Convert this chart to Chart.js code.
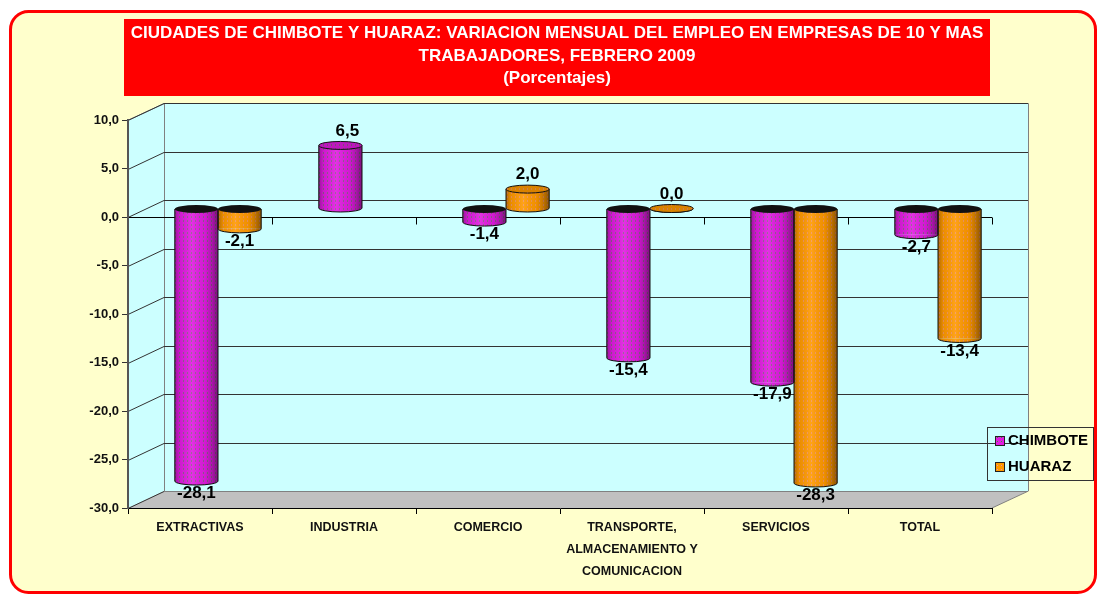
<!DOCTYPE html>
<html><head><meta charset="utf-8">
<script src="https://cdn.jsdelivr.net/npm/chart.js@4.4.1/dist/chart.umd.min.js"></script>
<style>html,body{margin:0;padding:0;background:#fff;overflow:hidden}</style>
</head><body>
<canvas id="c" width="1098" height="595"></canvas>
<script>
const titleLines = ['CIUDADES DE CHIMBOTE Y HUARAZ: VARIACION MENSUAL DEL EMPLEO EN EMPRESAS DE 10 Y MAS','TRABAJADORES, FEBRERO 2009','(Porcentajes)'];
const categories = ['EXTRACTIVAS','INDUSTRIA','COMERCIO',['TRANSPORTE,','ALMACENAMIENTO Y','COMUNICACION'],'SERVICIOS','TOTAL'];
const seriesNames = ['CHIMBOTE','HUARAZ'];
const chimbote = [-28.1, 6.5, -1.4, -15.4, -17.9, -2.7];
const huaraz = [-2.1, null, 2.0, 0.0, -28.3, -13.4];
const yMin = -30, yMax = 10, yStep = 5;

const FONT = '"Liberation Sans", Arial, sans-serif';
const DX = 36, DY = -17;   // depth offset of back wall
const RY = 4;              // cylinder cap radius (vertical)
const canvas = document.getElementById('c');
const ctx0 = canvas.getContext('2d');

function makePattern(base, dot){
  const c = document.createElement('canvas'); c.width = 4; c.height = 4;
  const g = c.getContext('2d');
  g.fillStyle = base; g.fillRect(0,0,4,4);
  g.fillStyle = dot; g.fillRect(1,1,1,1);
  return ctx0.createPattern(c,'repeat');
}
const patterns = [makePattern('#E01CE0','#3E9A3A'), makePattern('#FF9900','#E890B8')];
const fmt = v => v.toFixed(1).replace('.', ',');

const scene = {
  id: 'scene',
  beforeDraw(chart){
    const ctx = chart.ctx, a = chart.chartArea, ys = chart.scales.y;
    ctx.save();
    ctx.fillStyle = '#fff'; ctx.fillRect(0,0,chart.width,chart.height);
    // outer frame
    ctx.beginPath(); ctx.roundRect(10.5, 11.5, 1085, 581, 18);
    ctx.fillStyle = '#FFFFCC'; ctx.fill();
    ctx.lineWidth = 3; ctx.strokeStyle = '#FF0000'; ctx.stroke();
    // title box
    ctx.fillStyle = '#FF0000'; ctx.fillRect(124, 19, 866, 77);
    ctx.fillStyle = '#fff'; ctx.font = 'bold 17px ' + FONT;
    ctx.textAlign = 'center'; ctx.textBaseline = 'middle';
    const ty = [33, 56, 78];
    titleLines.forEach((t,i)=>ctx.fillText(t, 557, ty[i]));
    // walls
    const L = a.left, R = a.right, T = a.top, B = a.bottom;
    ctx.fillStyle = '#CCFFFF';
    ctx.beginPath(); ctx.moveTo(L, T); ctx.lineTo(L+DX, T+DY); ctx.lineTo(R+DX, T+DY); ctx.lineTo(R+DX, B+DY); ctx.lineTo(L, B); ctx.closePath(); ctx.fill();
    // floor
    ctx.fillStyle = '#C0C0C0';
    ctx.beginPath(); ctx.moveTo(L, B); ctx.lineTo(R, B); ctx.lineTo(R+DX, B+DY); ctx.lineTo(L+DX, B+DY); ctx.closePath(); ctx.fill();
    ctx.lineWidth = 1; ctx.strokeStyle = '#808080';
    ctx.beginPath();
    ctx.moveTo(L+0.5, T); ctx.lineTo(L+DX+0.5, T+DY+0.5); ctx.lineTo(R+DX+0.5, T+DY+0.5); ctx.lineTo(R+DX+0.5, B+DY); ctx.lineTo(R, B);
    ctx.moveTo(L+DX+0.5, T+DY); ctx.lineTo(L+DX+0.5, B+DY);
    ctx.moveTo(L+DX, B+DY+0.5); ctx.lineTo(R+DX, B+DY+0.5);
    ctx.stroke();
    // grid lines on back wall + diagonals on side wall
    ctx.strokeStyle = '#333';
    ys.ticks.forEach(t=>{
      const y = Math.round(ys.getPixelForValue(t.value)) + 0.5;
      ctx.beginPath();
      ctx.moveTo(L, y); ctx.lineTo(L+DX, y+DY);
      if (t.value > yMin) ctx.lineTo(R+DX, y+DY);
      ctx.stroke();
    });
    // zero line on front plane with category ticks
    const y0 = Math.round(ys.getPixelForValue(0)) + 0.5;
    ctx.strokeStyle = '#000';
    ctx.beginPath(); ctx.moveTo(L, y0); ctx.lineTo(R, y0);
    const n = categories.length, step = (R-L)/n;
    for (let k=1;k<=n;k++){ const x = Math.round(L+k*step)+0.5; ctx.moveTo(x, y0); ctx.lineTo(x, y0+7); }
    ctx.stroke();
    ctx.restore();
  },
  beforeDatasetsDraw(chart){
    chart.ctx.save();
    chart.ctx.translate(DX/2, DY/2);
  },
  afterDatasetsDraw(chart){
    const ctx = chart.ctx;
    chart.data.datasets.forEach((ds, di)=>{
      const meta = chart.getDatasetMeta(di);
      meta.data.forEach((el, i)=>{
        const v = ds.data[i];
        if (v === null || v === undefined) return;
        const p = el.getProps(['x','y','base','width'], true);
        const w = p.width, x = p.x, rx = w/2;
        const top = Math.min(p.y, p.base), bot = Math.max(p.y, p.base);
        // bottom rounded end
        ctx.beginPath(); ctx.ellipse(x, bot, rx, RY, 0, 0, Math.PI); ctx.closePath();
        ctx.fillStyle = patterns[di]; ctx.fill();
        // shading overlay
        const g = ctx.createLinearGradient(x-rx, 0, x+rx, 0);
        g.addColorStop(0, 'rgba(0,0,0,0.30)');
        g.addColorStop(0.12, 'rgba(0,0,0,0.08)');
        g.addColorStop(0.4, 'rgba(255,255,255,0.10)');
        g.addColorStop(0.7, 'rgba(0,0,0,0.06)');
        g.addColorStop(0.85, 'rgba(0,0,0,0.22)');
        g.addColorStop(1, 'rgba(0,0,0,0.45)');
        ctx.beginPath(); ctx.rect(x-rx, top, w, bot-top); ctx.ellipse(x, bot, rx, RY, 0, 0, Math.PI);
        ctx.fillStyle = g; ctx.fill();
        // outline
        ctx.lineWidth = 1; ctx.strokeStyle = '#111';
        ctx.beginPath(); ctx.moveTo(x-rx, top); ctx.lineTo(x-rx, bot); ctx.ellipse(x, bot, rx, RY, 0, Math.PI, 0, true); ctx.lineTo(x+rx, top); ctx.stroke();
        // top cap
        ctx.beginPath(); ctx.ellipse(x, top, rx, RY, 0, 0, Math.PI*2);
        if (v < 0) { ctx.fillStyle = '#111'; ctx.fill(); }
        else { ctx.fillStyle = patterns[di]; ctx.fill(); ctx.fillStyle = 'rgba(0,0,0,0.15)'; ctx.fill(); ctx.stroke(); }
        // label
        ctx.fillStyle = '#000'; ctx.font = 'bold 17px ' + FONT; ctx.textAlign = 'center';
        if (v < 0) { ctx.textBaseline = 'top'; ctx.fillText(fmt(v), x, bot + RY); }
        else { ctx.textBaseline = 'bottom'; ctx.fillText(fmt(v), x + (v>3?7:0), top - RY - 2); }
      });
    });
    ctx.restore();
  },
  afterDraw(chart){
    const ctx = chart.ctx;
    ctx.save();
    ctx.strokeStyle = '#333'; ctx.lineWidth = 1;
    ctx.strokeRect(987.5, 427.5, 106, 53);
    ctx.font = 'bold 15px ' + FONT; ctx.textAlign = 'left'; ctx.textBaseline = 'middle';
    [441, 467].forEach((y, k)=>{
      ctx.fillStyle = patterns[k]; ctx.fillRect(995, y-5, 10, 10);
      ctx.strokeStyle = '#222'; ctx.strokeRect(995.5, y-4.5, 9, 9);
      ctx.fillStyle = '#000'; ctx.fillText(seriesNames[k], 1008, y);
    });
    ctx.restore();
  }
};

new Chart(canvas, {
  type: 'bar',
  data: {
    labels: categories,
    datasets: [
      { label: seriesNames[0], data: chimbote, backgroundColor: patterns[0], borderWidth: 0, clip: false },
      { label: seriesNames[1], data: huaraz, backgroundColor: patterns[1], borderWidth: 0, clip: false }
    ]
  },
  options: {
    responsive: false, animation: false, devicePixelRatio: 1,
    layout: { padding: { top: 120, right: 106, left: 0, bottom: 0 } },
    categoryPercentage: 0.6, barPercentage: 1.0,
    plugins: { legend: { display: false }, title: { display: false }, tooltip: { enabled: false } },
    scales: {
      x: {
        grid: { drawOnChartArea: false, drawTicks: true, tickLength: 6, color: '#000', offset: true },
        border: { display: true, color: '#000', width: 1 },
        ticks: { color: '#111', font: { family: FONT, size: 12.5, weight: 'bold', lineHeight: 1.75 }, padding: 3, maxRotation: 0, autoSkip: false },
        afterFit: s => { s.height = 87; }
      },
      y: {
        min: yMin, max: yMax,
        grid: { drawOnChartArea: false, drawTicks: true, tickLength: 6, color: '#333' },
        border: { display: true, color: '#555', width: 2 },
        ticks: { stepSize: yStep, color: '#111', font: { family: FONT, size: 13, weight: 'bold' }, padding: 3, callback: v => fmt(v) },
        afterFit: s => { s.width = 128; }
      }
    }
  },
  plugins: [scene]
});
</script>
</body></html>
